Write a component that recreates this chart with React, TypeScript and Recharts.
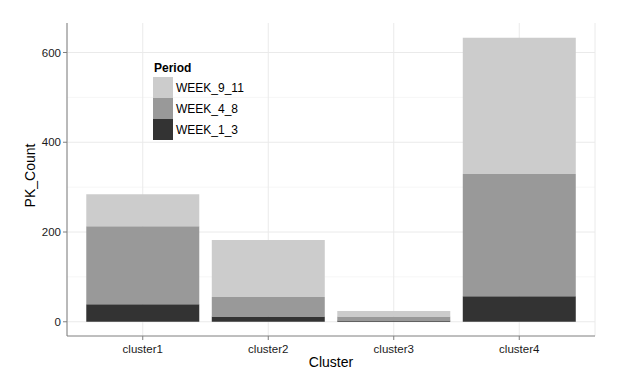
import React from 'react';
import { BarChart, Bar, XAxis, YAxis, CartesianGrid } from 'recharts';

const clusters = ['cluster1', 'cluster2', 'cluster3', 'cluster4'];
const week1to3 = [39, 12, 3, 57];
const week4to8 = [174, 43, 9, 272];
const week9to11 = [71, 127, 12, 304];
const yTicks = [0, 200, 400, 600];
const minorTicks = [100, 300, 500];

const data = clusters.map((c, i) => ({
  cluster: c,
  WEEK_1_3: week1to3[i],
  WEEK_4_8: week4to8[i],
  WEEK_9_11: week9to11[i],
}));

const legendItems = [
  { name: 'WEEK_9_11', color: '#CCCCCC' },
  { name: 'WEEK_4_8', color: '#999999' },
  { name: 'WEEK_1_3', color: '#333333' },
];

const font = 'Liberation Sans, Arial, sans-serif';

// legend sits inside the panel, drawn as an overlay so it takes no chart space
const PeriodLegend = () => (
  <div style={{ position: 'absolute', left: 153, top: 61, fontFamily: font, fontSize: 12, color: '#000' }}>
    <div style={{ fontWeight: 'bold', marginBottom: 2, marginLeft: 1, lineHeight: '14px' }}>Period</div>
    {legendItems.map((it) => (
      <div key={it.name} style={{ display: 'flex', alignItems: 'center', height: 21 }}>
        <div style={{ width: 20, height: 21, background: it.color }} />
        <span style={{ marginLeft: 3 }}>{it.name}</span>
      </div>
    ))}
  </div>
);

export default function App() {
  return (
    <div style={{ position: 'absolute', left: 0, top: 0, width: 634, height: 369, background: '#fff' }}>
      <BarChart
        width={634}
        height={369}
        data={data}
        margin={{ top: 23, right: 39, bottom: 0, left: 0 }}
        barCategoryGap="5%"
      >
        <CartesianGrid horizontalValues={minorTicks} vertical={false} stroke="#F6F6F6" />
        <CartesianGrid horizontalValues={yTicks} stroke="#EAEAEA" />
        <XAxis
          dataKey="cluster"
          height={33}
          padding={{ left: 13, right: 13 }}
          tick={{ fill: '#1a1a1a', fontSize: 11.5, fontFamily: font, dy: 3 }}
          tickSize={4}
          tickLine={{ stroke: '#7F7F7F' }}
          axisLine={{ stroke: '#7F7F7F' }}
          label={{ value: 'Cluster', position: 'insideBottom', offset: 2, fill: '#000', fontSize: 14, fontFamily: font }}
        />
        <XAxis
          xAxisId="top"
          dataKey="cluster"
          orientation="top"
          height={0}
          tick={false}
          tickLine={false}
          axisLine={{ stroke: '#7F7F7F' }}
        />
        <YAxis
          width={67}
          domain={[-31.7, 665.7]}
          ticks={yTicks}
          allowDataOverflow
          tick={{ fill: '#1a1a1a', fontSize: 11.5, fontFamily: font }}
          tickSize={4}
          tickLine={{ stroke: '#7F7F7F' }}
          axisLine={{ stroke: '#7F7F7F' }}
          label={{ value: 'PK_Count', angle: -90, position: 'insideLeft', offset: 30, dy: -4, fill: '#000', fontSize: 14, fontFamily: font, style: { textAnchor: 'middle' } }}
        />
        <YAxis
          yAxisId="right"
          orientation="right"
          width={0}
          tick={false}
          tickLine={false}
          axisLine={{ stroke: '#7F7F7F' }}
        />
        <Bar dataKey="WEEK_1_3" stackId="a" fill="#333333" isAnimationActive={false} />
        <Bar dataKey="WEEK_4_8" stackId="a" fill="#999999" isAnimationActive={false} />
        <Bar dataKey="WEEK_9_11" stackId="a" fill="#CCCCCC" isAnimationActive={false} />
      </BarChart>
      <PeriodLegend />
    </div>
  );
}
